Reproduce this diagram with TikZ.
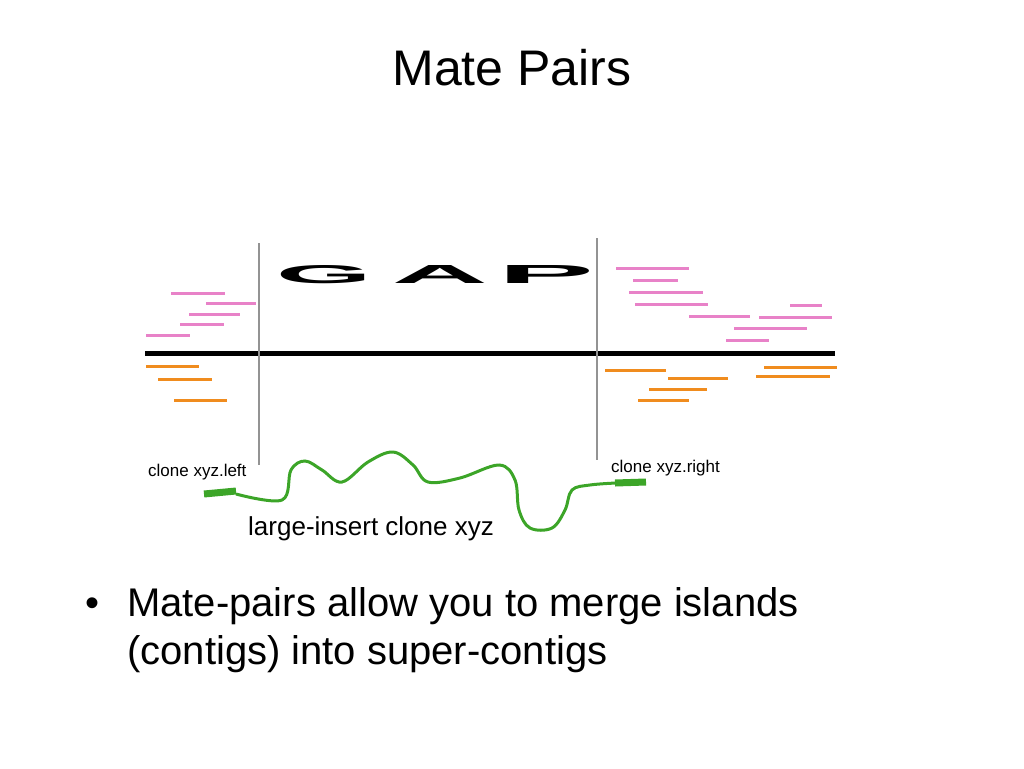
\documentclass[tikz,border=0pt]{standalone}
\usepackage{fontspec}
\setmainfont{Liberation Sans}
\begin{document}
\begin{tikzpicture}[x=1pt,y=-1pt,line cap=butt]
	\definecolor{readpink}{RGB}{232, 130, 200}
	\definecolor{readorange}{RGB}{240, 140, 30}
	\definecolor{clonegreen}{RGB}{60, 165, 40}
	\tikzset{pinkread/.style={line width=3pt, readpink},
		orangeread/.style={line width=3pt, readorange},
		gapline/.style={line width=2.5pt, gray!85}}
	\useasboundingbox (0,0) rectangle (1024,768);
	\node[anchor=base] (title) at (512,85) {\fontsize{50pt}{50pt}\selectfont Mate Pairs};
	% reads above the contigs
	\foreach \y/\xa/\xb in {293/171/225, 303/206/256, 314/189/240, 324/180/224, 335/146/190,
		268/616/689, 280/633/678, 292/629/703, 304/635/708, 316/689/750, 305/790/822,
		317/759/832, 328/734/807, 340/726/769}
		\draw[pinkread] (\xa,\y) -- (\xb,\y);
	% reads below the contigs
	\foreach \y/\xa/\xb in {366/146/199, 379/158/212, 400/174/227,
		370/605/666, 378/668/728, 389/649/707, 400/638/689, 367/764/837, 376/756/830}
		\draw[orangeread] (\xa,\y) -- (\xb,\y);
	\draw[line width=5pt] (145,353) -- (835,353);
	\draw[gapline] (259,243) -- (259,465);
	\draw[gapline] (597,238) -- (597,460);
	% stretched GAP letters
	\foreach \ch/\x in {G/324, A/440, P/546}
		\node[inner sep=0] (gap\ch) at (\x,274.5) {\resizebox{96pt}{18pt}{\bfseries \ch}};
	\node[anchor=base west, inner sep=0] (cloneleft) at (148,476) {\fontsize{17pt}{17pt}\selectfont clone xyz.left};
	\node[anchor=base west, inner sep=0] (cloneright) at (611,472) {\fontsize{17pt}{17pt}\selectfont clone xyz.right};
	\node[anchor=base west, inner sep=0] (insert) at (248,535) {\fontsize{26pt}{26pt}\selectfont large-insert clone xyz};
	% clone
	\draw[clonegreen, line width=3pt] plot[smooth, tension=0.6] coordinates {(236,494) (282,500) (291,470) (305,461) (322,470) (342,482) (368,462) (393,452) (413,465) (428,482) (460,478) (499,465) (515,480) (519,510) (530,528) (552,528) (565,510) (572,490) (590,485) (616,483)};
	\draw[clonegreen, line width=7pt] (204,494) -- (236,491);
	\draw[clonegreen, line width=7pt] (615,483) -- (646,482);
	\node[anchor=base west, inner sep=0] (bullet) at (85,616) {\fontsize{40pt}{40pt}\selectfont •};
	\node[anchor=base west, inner sep=0] (lineone) at (127,616) {\fontsize{40pt}{40pt}\selectfont Mate-pairs allow you to merge islands};
	\node[anchor=base west, inner sep=0] (linetwo) at (127,664) {\fontsize{40pt}{40pt}\selectfont (contigs) into super-contigs};
\end{tikzpicture}
\end{document}
